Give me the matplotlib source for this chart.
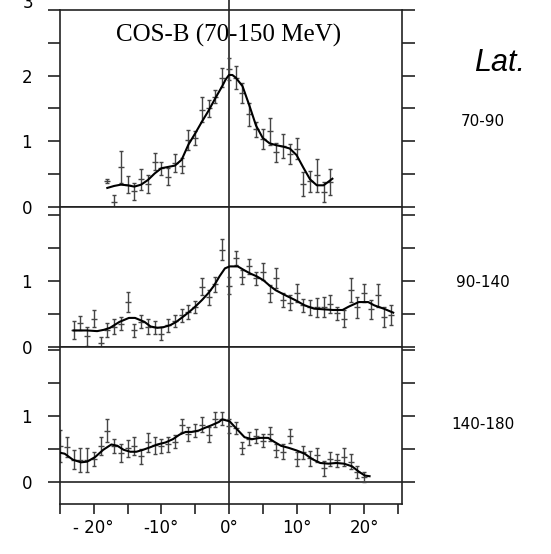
import numpy as np
import matplotlib.pyplot as plt
from matplotlib.transforms import blended_transform_factory

# --- data (latitude profiles, COS-B 70-150 MeV) ---
# panel 1: longitude 70-90
x1 = [-18, -17, -16, -15, -14, -13, -12, -11, -10, -9, -8, -7, -6, -5, -4, -3, -2, -1,
      0, 1, 2, 3, 4, 5, 6, 7, 8, 9, 10, 11, 12, 13, 14, 15]
y1 = [0.39, 0.07, 0.61, 0.34, 0.24, 0.42, 0.35, 0.69, 0.59, 0.46, 0.67, 0.63, 1.02, 1.05,
      1.48, 1.50, 1.68, 1.97, 2.10, 1.97, 1.74, 1.41, 1.18, 1.04, 1.15, 0.83, 0.93, 0.81,
      0.89, 0.35, 0.39, 0.48, 0.23, 0.38]
e1 = [0.03, 0.11, 0.24, 0.13, 0.13, 0.16, 0.14, 0.13, 0.10, 0.13, 0.13, 0.11, 0.15, 0.10,
      0.19, 0.13, 0.10, 0.14, 0.17, 0.18, 0.15, 0.18, 0.11, 0.15, 0.21, 0.15, 0.18, 0.15,
      0.16, 0.18, 0.16, 0.25, 0.15, 0.20]
fit1_x = [-18.0, -17.0, -16.0, -15.0, -14.0, -13.0, -12.0, -11.0, -10.0, -9.0, -8.0, -7.0,
          -6.0, -5.0, -4.0, -3.0, -2.0, -1.0, -0.5, 0.0, 0.5, 1.0, 2.0, 3.0, 4.0, 5.0, 6.0,
          7.0, 8.0, 9.0, 10.0, 11.0, 12.0, 13.0, 14.0, 15.3]
fit1_y = [0.29, 0.32, 0.34, 0.33, 0.31, 0.34, 0.41, 0.51, 0.59, 0.61, 0.63, 0.72, 0.95,
          1.12, 1.30, 1.47, 1.66, 1.84, 1.94, 2.01, 2.01, 1.97, 1.84, 1.55, 1.24, 1.05,
          0.97, 0.94, 0.92, 0.89, 0.79, 0.60, 0.42, 0.33, 0.33, 0.43]

# panel 2: longitude 90-140
x2 = [-23, -22, -21, -20, -19, -18, -17, -16, -15, -14, -13, -12, -11, -10, -9, -8, -7, -6,
      -5, -4, -3, -2, -1, 0, 1, 2, 3, 4, 5, 6, 7, 8, 9, 10, 11, 12, 13, 14, 15, 16, 17, 18,
      19, 20, 21, 22, 23, 24]
y2 = [0.26, 0.36, 0.16, 0.43, 0.06, 0.26, 0.31, 0.35, 0.68, 0.25, 0.38, 0.31, 0.30, 0.20,
      0.33, 0.39, 0.48, 0.53, 0.60, 0.91, 0.75, 0.95, 1.47, 0.93, 1.35, 1.06, 1.22, 1.04,
      1.14, 0.81, 1.04, 0.71, 0.67, 0.82, 0.63, 0.60, 0.60, 0.61, 0.65, 0.51, 0.43, 0.86,
      0.60, 0.82, 0.57, 0.78, 0.45, 0.48]
e2 = [0.14, 0.11, 0.14, 0.13, 0.09, 0.11, 0.11, 0.10, 0.15, 0.10, 0.10, 0.11, 0.10, 0.10,
      0.10, 0.09, 0.10, 0.10, 0.09, 0.13, 0.11, 0.11, 0.16, 0.13, 0.11, 0.10, 0.11, 0.10,
      0.13, 0.13, 0.15, 0.10, 0.11, 0.14, 0.10, 0.11, 0.14, 0.15, 0.14, 0.10, 0.13, 0.18,
      0.16, 0.14, 0.14, 0.18, 0.15, 0.15]
fit2_x = [-23.0, -21.0, -19.5, -18.5, -17.6, -16.2, -14.8, -13.9, -12.5, -11.6, -10.6, -9.7,
          -8.7, -7.8, -6.9, -5.9, -5.0, -4.0, -3.1, -2.2, -1.4, -0.6, 0.1, 1.3, 2.3, 3.2,
          4.1, 5.1, 6.0, 6.9, 8.4, 9.8, 11.2, 12.6, 14.0, 15.4, 16.8, 17.7, 19.2, 20.6,
          21.5, 22.9, 24.3]
fit2_y = [0.25, 0.25, 0.24, 0.26, 0.29, 0.38, 0.44, 0.44, 0.38, 0.31, 0.29, 0.30, 0.33,
          0.38, 0.45, 0.53, 0.61, 0.71, 0.81, 0.93, 1.07, 1.19, 1.22, 1.22, 1.16, 1.11,
          1.07, 1.01, 0.93, 0.86, 0.78, 0.71, 0.63, 0.58, 0.57, 0.56, 0.56, 0.61, 0.68,
          0.68, 0.63, 0.58, 0.52]

# panel 3: longitude 140-180
x3 = [-25, -24, -23, -22, -21, -20, -19, -18, -17, -16, -15, -14, -13, -12, -11, -10, -9,
      -8, -7, -6, -5, -4, -3, -2, -1, 0, 1, 2, 3, 4, 5, 6, 7, 8, 9, 10, 11, 12, 13, 14, 15,
      16, 17, 18, 19, 20]
y3 = [0.55, 0.53, 0.34, 0.33, 0.33, 0.35, 0.55, 0.78, 0.55, 0.44, 0.51, 0.55, 0.39, 0.60,
      0.56, 0.55, 0.57, 0.61, 0.86, 0.73, 0.78, 0.87, 0.72, 0.95, 0.96, 0.85, 0.82, 0.52,
      0.66, 0.70, 0.63, 0.73, 0.48, 0.46, 0.70, 0.35, 0.45, 0.36, 0.41, 0.21, 0.35, 0.33,
      0.38, 0.31, 0.16, 0.08]
e3 = [0.24, 0.15, 0.14, 0.18, 0.18, 0.10, 0.14, 0.18, 0.11, 0.14, 0.13, 0.14, 0.11, 0.14,
      0.13, 0.11, 0.11, 0.10, 0.10, 0.10, 0.10, 0.11, 0.11, 0.11, 0.10, 0.11, 0.09, 0.09,
      0.10, 0.11, 0.10, 0.10, 0.10, 0.11, 0.11, 0.10, 0.10, 0.11, 0.11, 0.11, 0.11, 0.10,
      0.13, 0.11, 0.09, 0.08]
fit3_x = [-25.2, -24.3, -23.1, -21.9, -21.0, -19.8, -18.6, -17.4, -16.5, -15.6, -14.6,
          -13.7, -12.7, -11.6, -10.6, -9.4, -8.3, -7.3, -6.4, -5.5, -4.5, -3.6, -2.6, -1.5,
          -1.0, 0.1, 1.1, 2.3, 3.4, 4.6, 5.8, 6.7, 7.7, 8.8, 10.0, 11.2, 12.3, 13.5, 14.7,
          15.9, 17.0, 18.2, 19.2, 20.1, 20.8]
fit3_y = [0.45, 0.43, 0.34, 0.30, 0.31, 0.38, 0.49, 0.57, 0.55, 0.49, 0.46, 0.46, 0.49,
          0.53, 0.57, 0.60, 0.65, 0.72, 0.76, 0.76, 0.78, 0.82, 0.86, 0.91, 0.95, 0.92,
          0.81, 0.68, 0.65, 0.67, 0.67, 0.61, 0.55, 0.52, 0.48, 0.43, 0.35, 0.29, 0.28,
          0.29, 0.28, 0.24, 0.16, 0.10, 0.09]

lon_labels = ['70-90', '90-140', '140-180']
label_y = [1.3, 0.97, 0.87]
x_ticks = [-25, -20, -15, -10, -5, 0, 5, 10, 15, 20, 25]
x_ticklabels = ['', '- 20°', '', '-10°', '', '0°', '', '10°', '', '20°', '']

panels = [(x1, y1, e1, fit1_x, fit1_y), (x2, y2, e2, fit2_x, fit2_y),
          (x3, y3, e3, fit3_x, fit3_y)]
ylims = [(0, 2.985), (0, 2.12), (-0.33, 2.045)]
yticks = [[0, 0.5, 1, 1.5, 2, 2.5, 3],
          [0, 0.5, 1, 1.5, 2],
          [0, 0.5, 1, 1.5, 2]]
yticklabels = [['0', '', '1', '', '2', '', ''],
               ['0', '', '1', '', ''],
               ['0', '', '1', '', '']]

fig = plt.figure(figsize=(5.51, 5.54), dpi=100)
gs = fig.add_gridspec(3, 1, height_ratios=[197, 140, 157], hspace=0,
                      left=0.1089, right=0.7296, top=0.982, bottom=0.0903)

line_col = '#222222'
axes = []
for i, (xs, ys, es, fx, fy) in enumerate(panels):
    ax = fig.add_subplot(gs[i])
    axes.append(ax)
    ax.errorbar(xs, ys, yerr=es, fmt='_', color='#454545', ms=4.5, mew=1.0,
                elinewidth=1.0, capsize=1.6, capthick=0.8, zorder=2)
    ax.plot(fx, fy, color='black', lw=1.5, zorder=3)
    ax.axvline(0, color=line_col, lw=1.2, zorder=1,
               ymax=1.06 if i == 0 else 1, clip_on=False)
    ax.axhline(0, color=line_col, lw=1.2, zorder=1)
    ax.set_xlim(-25.0, 25.6)
    ax.set_ylim(*ylims[i])
    ax.set_yticks(yticks[i])
    ax.set_yticklabels(yticklabels[i])
    ax.tick_params(axis='y', which='both', direction='out', length=9, width=1.2,
                   pad=11, labelsize=12, left=True, right=True, color=line_col)
    ax.tick_params(axis='y', which='major', labelright=False)
    for s in ax.spines.values():
        s.set_color(line_col)
        s.set_linewidth(1.2)
    ax.text(37.5, label_y[i], lon_labels[i], fontsize=11, ha='center', va='center',
            clip_on=False)
    if i < 2:
        ax.tick_params(axis='x', bottom=False, labelbottom=False)

ax1, ax2, ax3 = axes
ax3.set_xticks(x_ticks)
ax3.set_xticklabels(x_ticklabels)
ax3.tick_params(axis='x', direction='out', length=7, width=1.2, pad=4, labelsize=12,
                color=line_col)

# cut-off "3" label at the top of the scan
trans = blended_transform_factory(ax1.transAxes, ax1.transData)
ax1.text(-0.077, 3.1, '3', transform=trans, fontsize=12, ha='right', va='center',
         clip_on=False)

ax1.text(0, 2.61, 'COS-B (70-150 MeV)', family='Liberation Serif', fontsize=18,
         ha='center', va='center', zorder=4)
ax1.text(40.0, 2.2, 'Lat.', family='Liberation Sans', style='italic', fontsize=22,
         ha='center', va='center', clip_on=False)

plt.savefig('out.png', dpi=100)
